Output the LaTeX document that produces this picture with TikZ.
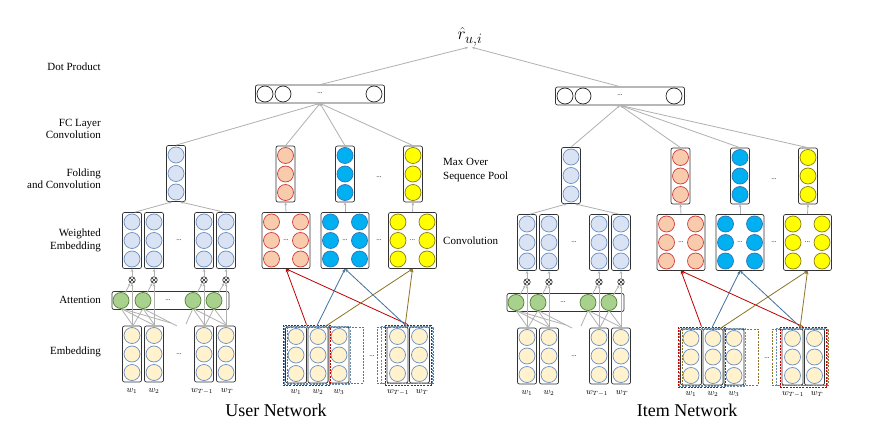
\documentclass[tikz,border=0pt]{standalone}
\usepackage{fontspec}
\setmainfont{Liberation Serif}
\usetikzlibrary{arrows.meta}
\definecolor{lbF}{HTML}{DAE3F3}
\definecolor{lbD}{HTML}{6C8EBF}
\definecolor{rF}{HTML}{F8CBAD}
\definecolor{rD}{HTML}{D03A3A}
\definecolor{bF}{HTML}{00B0F0}
\definecolor{bD}{HTML}{2E75B6}
\definecolor{yF}{HTML}{FFFF00}
\definecolor{yD}{HTML}{8A7A10}
\definecolor{gF}{HTML}{A9D18E}
\definecolor{gD}{HTML}{538135}
\definecolor{cF}{HTML}{FFF2CC}
\definecolor{cD}{HTML}{6C8EBF}
\definecolor{lnG}{HTML}{B0B0B0}
\definecolor{arR}{HTML}{C00000}
\definecolor{arB}{HTML}{41719C}
\definecolor{arO}{HTML}{8C7328}

\newcommand\tcol[5]{%
  \node[colbox, minimum width=#5pt] (#1) at (#2,#3) {};
  \node[#4] (#1a) at (#2,#3-18.5) {};
  \node[#4] (#1b) at (#2,#3) {};
  \node[#4] (#1c) at (#2,#3+18.5) {};}

\newcommand\cbox[3]{%
  \node[colbox, minimum width=48pt] (#1) at (#2,240.5) {};
  \node[#3] (#1la) at (#2-14.5,222) {};
  \node[#3] (#1lb) at (#2-14.5,240.5) {};
  \node[#3] (#1lc) at (#2-14.5,259) {};
  \node[#3] (#1ra) at (#2+14.5,222) {};
  \node[#3] (#1rb) at (#2+14.5,240.5) {};
  \node[#3] (#1rc) at (#2+14.5,259) {};
  \node[dots] (#1d) at (#2,240.5) {...};}

\newcommand\net[2]{%
  % FC layer
  \node[colbox, minimum width=129pt, minimum height=18pt] (#1fc) at (#2,94) {};
  \node[wh] (#1fc1) at (#2-55,94) {};
  \node[wh] (#1fc2) at (#2-37,94) {};
  \node[wh] (#1fc3) at (#2+54,94) {};
  \node[dots] (#1fcd) at (#2,93) {...};
  % folding and pooled columns
  \tcol{#1fo}{176}{173.5}{lb}{19}
  \tcol{#1pr}{285.5}{174}{rd}{19}
  \tcol{#1pb}{345}{174}{bl}{19}
  \tcol{#1py}{413}{174}{yl}{19}
  \node[dots] (#1pd) at (379,177) {...};
  \foreach \t in {fo,pr,pb,py} \draw[ga] (#1\t.north) -- (#1fc.south);
  % weighted embedding
  \tcol{#1w1}{132}{240.5}{lb}{19}
  \tcol{#1w2}{154}{240.5}{lb}{19}
  \tcol{#1w3}{204}{240.5}{lb}{19}
  \tcol{#1w4}{226}{240.5}{lb}{19}
  \node[dots] (#1wd) at (179,240.5) {...};
  \draw[ga] ([xshift=3pt]#1w1.north) -- ([xshift=-4pt]#1fo.south);
  \draw[ga] ([xshift=-2pt]#1w4.north) -- ([xshift=4pt]#1fo.south);
  % convolution boxes
  \cbox{#1cr}{286}{rd}
  \cbox{#1cb}{345}{bl}
  \cbox{#1cy}{412.5}{yl}
  \node[dots] (#1cd) at (379,240.5) {...};
  \draw[ga] (#1cr.north) -- (#1pr.south);
  \draw[ga] (#1cb.north) -- (#1pb.south);
  \draw[ga] (#1cy.north) -- (#1py.south);
  % attention
  \node[colbox, minimum width=117pt, minimum height=18pt] (#1att) at (170.5,300.5) {};
  \node[dots] (#1ad) at (168,300) {...};
  \foreach \k/\x in {1/132,2/154,3/204,4/226}{
    \node[otimesnode] (#1o\k) at (\x,280) {};
    \tcol{#1e\k}{\x}{354}{cr}{19}
  }
  \node[dots] (#1ed) at (179,354) {...};
  \coordinate (#1fa) at (171,323);
  \coordinate (#1fb) at (177,326);
  \coordinate (#1fz) at (186,324);
  \foreach \k in {1,2,3,4}{
    \draw[ga] (#1o\k.north) -- (#1w\k.south);
    \draw[ga] (#1e\k.north) -- (#1o\k.south);
  }
  \foreach \a/\b in {1/1,1/2,2/1,2/2,3/3,3/4,4/3,4/4}
    \draw[gl] ([xshift=1pt]#1e\a.north) -- (#1g\b pos);
  \draw[gl] (#1g1pos) -- (#1fa);
  \draw[gl] (#1g2pos) -- (#1fb);
  \draw[gl] (#1g3pos) -- (#1fz);
  \foreach \k/\x in {1/121,2/143,3/193,4/214}{
    \node[gr] (#1g\k) at (\x,300.5) {};
    \draw[ga] (#1g\k) -- (#1o\k);
  }
  \node[wl] (#1l1) at (132,391) {$w_1$};
  \node[wl] (#1l2) at (154,391) {$w_2$};
  \node[wl] (#1l3) at (202,391) {$w_{T-1}$};
  \node[wl] (#1l4) at (227,391) {$w_T$};
  % convolution input
  \tcol{#1k1}{296}{355}{cr}{21}
  \tcol{#1k2}{318}{355}{cr}{20}
  \tcol{#1k3}{339}{355}{cr}{20}
  \tcol{#1k4}{397.5}{355}{cr}{21}
  \tcol{#1k5}{419.5}{355}{cr}{20}
  \node[dots] (#1kd) at (372,356) {...};
  \node[wl] (#1m1) at (296,392) {$w_1$};
  \node[wl] (#1m2) at (318,392) {$w_2$};
  \node[wl] (#1m3) at (339,392) {$w_3$};
  \node[wl] (#1m4) at (398,392) {$w_{T-1}$};
  \node[wl] (#1m5) at (422,392) {$w_T$};
  \node[dsh, draw=arO, minimum width=76pt, minimum height=56pt] (#1do1) at (325,355) {};
  \node[dsh, draw=arB!80, minimum width=66pt, minimum height=58pt] (#1db1) at (317,355) {};
  \node[dsh, draw=arR, minimum width=47pt, minimum height=60pt] (#1dr1) at (306.5,355) {};
  \node[dsh, draw=arO, minimum width=56pt, minimum height=56pt] (#1do2) at (405,355) {};
  \node[dsh, draw=arB!80, minimum width=51pt, minimum height=57pt] (#1db2) at (406.5,355) {};
  \node[dsh, draw=arR, minimum width=46pt, minimum height=60pt] (#1dr2) at (408,355) {};
  \draw[ca, arR] (#1dr1.north) -- (#1cr.south);
  \draw[ca, arR] (#1dr2.north) -- (#1cr.south);
  \draw[ca, arB] (#1db1.north) -- (#1cb.south);
  \draw[ca, arB] (#1db2.north) -- (#1cb.south);
  \draw[ca, arO] (#1do1.north) -- (#1cy.south);
  \draw[ca, arO] (#1do2.north) -- (#1cy.south);
}

\begin{document}
\begin{tikzpicture}[x=1pt,y=-1pt,
  colbox/.style={draw=black!80, line width=0.7pt, rounded corners=2pt, fill=white, inner sep=0pt, minimum width=19pt, minimum height=56pt},
  cc/.style={circle, inner sep=0pt, minimum size=16pt, line width=0.7pt},
  lb/.style={cc, fill=lbF, draw=lbD},
  rd/.style={cc, fill=rF, draw=rD},
  bl/.style={cc, fill=bF, draw=bD},
  yl/.style={cc, fill=yF, draw=yD},
  gr/.style={cc, fill=gF, draw=gD},
  cr/.style={cc, fill=cF, draw=cD},
  wh/.style={cc, fill=white, draw=black!85},
  otimesnode/.style={circle, draw=black!85, fill=white, line width=0.6pt, inner sep=0pt, minimum size=6.5pt,
    path picture={\draw[line width=0.5pt, black!85] (path picture bounding box.north west) -- (path picture bounding box.south east)
      (path picture bounding box.north east) -- (path picture bounding box.south west);}},
  gl/.style={draw=lnG, line width=0.8pt},
  ga/.style={gl, -{Stealth[length=3pt,width=2.6pt]}},
  ca/.style={line width=0.8pt, -{Stealth[length=3.5pt,width=3pt]}},
  lab/.style={font=\fontsize{11}{12.5}\selectfont, align=right, anchor=east, inner sep=0pt},
  dots/.style={font=\fontsize{7}{8}\selectfont, inner sep=0pt},
  wl/.style={font=\small, inner sep=0pt},
  dsh/.style={draw, dash pattern=on 2pt off 1.2pt, line width=0.8pt, inner sep=0pt},
]
\useasboundingbox (0,0) rectangle (891,438);
\fill[white] (0,0) rectangle (891,438);

% green circle positions used before nodes exist
\foreach \p/\dx/\dy in {u/0/0,i/395/2}{
  \foreach \k/\x in {1/121,2/143,3/193,4/214}
    \coordinate (\p g\k pos) at (\x+\dx,308.5+\dy);
}

\net{u}{320}
\begin{scope}[shift={(395,2)}]
\net{i}{225}
\end{scope}

\node[font=\fontsize{19}{21}\selectfont, inner sep=1pt] (r) at (470,37) {$\hat{r}_{u,i}$};
\draw[ga] (ufc.north) -- ([xshift=-2pt]r.south);
\draw[ga] (ifc.north) -- ([xshift=2pt]r.south);

\node[lab] (l1) at (101,67) {Dot Product};
\node[lab] (l2) at (101,129) {FC Layer\\Convolution};
\node[lab] (l3) at (101,178.5) {Folding\\and Convolution};
\node[lab] (l4) at (101,240.5) {Weighted\\Embedding};
\node[lab] (l5) at (101,300) {Attention};
\node[lab] (l6) at (101,352) {Embedding};
\node[lab, anchor=west, align=left, font=\fontsize{11}{14}\selectfont] (m1) at (443,170) {Max Over\\Sequence Pool};
\node[lab, anchor=west, align=left] (m2) at (443,241) {Convolution};

\node[font=\fontsize{18}{20}\selectfont, inner sep=0pt] (t1) at (276,410) {User Network};
\node[font=\fontsize{18}{20}\selectfont, inner sep=0pt] (t2) at (687,410) {Item Network};
\end{tikzpicture}
\end{document}
